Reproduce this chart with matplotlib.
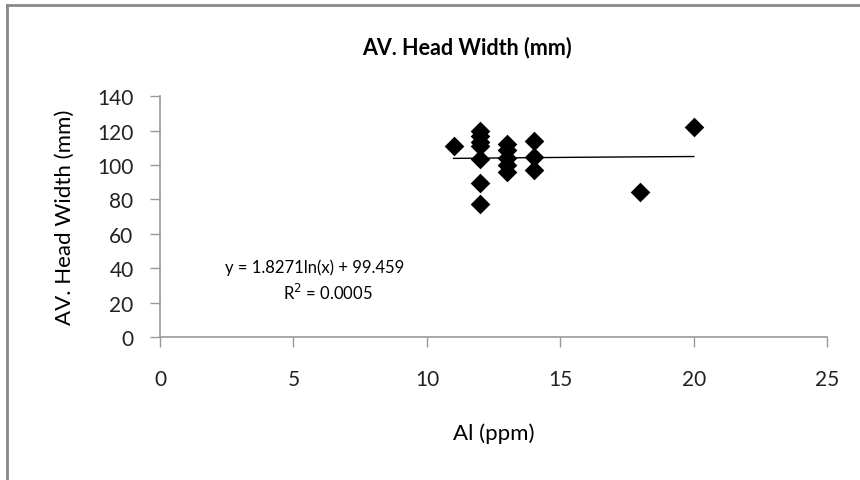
import numpy as np
import matplotlib

matplotlib.use("Agg")
import matplotlib.pyplot as plt
from matplotlib.lines import Line2D

plt.rcParams["font.family"] = ["Lato", "DejaVu Sans"]

# Al (ppm) vs average head width (mm)
al_ppm = [11, 12, 12, 12, 12, 12, 12, 12, 13, 13, 13, 13, 13, 14, 14, 14, 18, 20]
head_width = [111, 120, 117, 113.5, 111, 103.5, 89.5, 77.5,
              112, 109, 104, 100, 96, 114, 104.5, 97, 84.5, 122]

# logarithmic trendline from the chart
fit_a = 1.8271
fit_b = 99.459
x_ticks = [0, 5, 10, 15, 20, 25]
y_ticks = [0, 20, 40, 60, 80, 100, 120, 140]

fig = plt.figure(figsize=(8.6, 4.81), dpi=100)
ax = fig.add_axes([0.186, 0.297, 0.776, 0.501])

ax.scatter(al_ppm, head_width, marker="D", s=100, color="black", zorder=3, linewidths=0)

xs = np.linspace(min(al_ppm), max(al_ppm), 50)
ax.plot(xs, fit_a * np.log(xs) + fit_b, color="black", lw=1.0, zorder=2)

ax.set_xlim(0, 25)
ax.set_ylim(0, 140)
ax.set_xticks(x_ticks)
ax.set_yticks(y_ticks)
ax.tick_params(axis="both", labelsize=15, color="#999999", length=7, width=1,
               direction="out", labelcolor="#222222")
ax.tick_params(axis="x", pad=16)
ax.tick_params(axis="y", pad=12)
for side in ["top", "right"]:
    ax.spines[side].set_visible(False)
for side in ["left", "bottom"]:
    ax.spines[side].set_color("#999999")
    ax.spines[side].set_linewidth(1.2)

ax.set_xlabel("Al (ppm)", fontsize=16, labelpad=24)
ax.set_ylabel("AV. Head Width (mm)", fontsize=16, labelpad=16)
fig.text(467 / 860, 1 - 48 / 481, "AV. Head Width (mm)", fontsize=15.5, fontweight="bold",
         ha="center", va="center")

ax.text(5.8, 40.7, "y = 1.8271ln(x) + 99.459", fontsize=12, ha="center", va="center")
ax.text(6.3, 26, "R$^2$ = 0.0005", fontsize=12, ha="center", va="center")

# outer chart frame (top and left edges visible)
fig.add_artist(Line2D([7 / 860, 7 / 860], [0, 1 - 6 / 481], color="#888888", lw=2,
                      transform=fig.transFigure))
fig.add_artist(Line2D([7 / 860, 1], [1 - 6 / 481, 1 - 6 / 481], color="#888888", lw=2,
                      transform=fig.transFigure))

fig.savefig("out.png", dpi=100)
